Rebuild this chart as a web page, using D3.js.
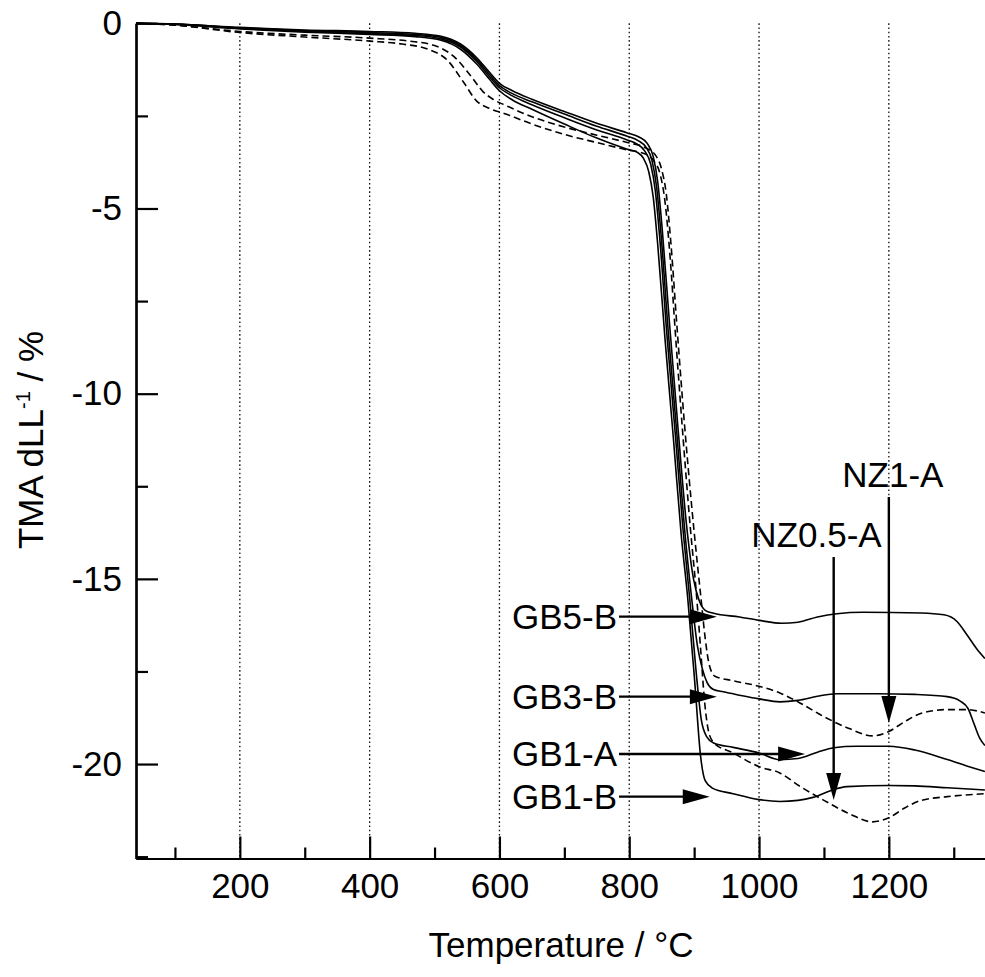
<!DOCTYPE html>
<html>
<head>
<meta charset="utf-8">
<script src="https://cdn.jsdelivr.net/npm/d3@7"></script>
<style>
  body{margin:0;background:#fff;}
  text{font-family:"Liberation Sans",Arial,Helvetica,sans-serif;fill:#000;}
</style>
</head>
<body>
<div id="chart"></div>
<script>
//data : [temperature, dL/L %]

var gb5B=[[40,0],[100,-0.02],[200,-0.11],[300,-0.18],[400,-0.22],[470,-0.27],[510,-0.35],[540,-0.56],[565,-0.93],[585,-1.33],[600,-1.62],[620,-1.82],[650,-2.05],[700,-2.38],[750,-2.7],[797,-2.96],[815,-3.07],[828,-3.25],[837,-3.6],[844,-4.3],[851,-5.6],[862,-8.1],[875,-10.9],[888,-13.5],[899,-15.0],[908,-15.6],[917,-15.85],[930,-15.93],[970,-16.03],[1000,-16.12],[1035,-16.2],[1060,-16.17],[1090,-16.03],[1120,-15.94],[1160,-15.9],[1250,-15.92],[1285,-15.97],[1305,-16.15],[1320,-16.5],[1335,-16.88],[1348,-17.15]];

var gb3B=[[40,0],[100,-0.02],[200,-0.12],[300,-0.2],[400,-0.25],[470,-0.3],[510,-0.38],[540,-0.6],[565,-0.98],[585,-1.39],[600,-1.68],[620,-1.9],[650,-2.12],[700,-2.45],[750,-2.78],[797,-3.05],[813,-3.16],[826,-3.35],[835,-3.7],[842,-4.4],[849,-5.7],[860,-8.3],[873,-11.0],[885,-13.6],[896,-15.5],[905,-16.8],[913,-17.45],[920,-17.8],[929,-17.98],[945,-18.05],[970,-18.14],[1000,-18.24],[1032,-18.32],[1060,-18.28],[1090,-18.17],[1120,-18.1],[1180,-18.1],[1240,-18.12],[1290,-18.18],[1310,-18.3],[1322,-18.5],[1332,-18.95],[1340,-19.3],[1348,-19.5]];

var gb1A=[[40,0],[100,-0.03],[200,-0.13],[300,-0.22],[400,-0.28],[470,-0.33],[510,-0.42],[540,-0.64],[565,-1.03],[585,-1.45],[600,-1.74],[620,-1.96],[650,-2.2],[700,-2.55],[750,-2.88],[797,-3.15],[812,-3.26],[824,-3.45],[833,-3.8],[840,-4.5],[847,-5.8],[858,-8.4],[871,-11.1],[883,-13.7],[893,-15.5],[903,-17.5],[911,-18.8],[919,-19.25],[930,-19.43],[960,-19.55],[1000,-19.7],[1032,-19.88],[1060,-19.85],[1090,-19.68],[1115,-19.56],[1150,-19.52],[1200,-19.52],[1240,-19.62],[1290,-19.88],[1320,-20.05],[1348,-20.2]];

var gb1B=[[40,0],[100,-0.03],[200,-0.15],[300,-0.24],[400,-0.3],[470,-0.36],[510,-0.46],[540,-0.7],[565,-1.1],[585,-1.52],[600,-1.82],[620,-2.07],[650,-2.32],[700,-2.72],[750,-3.1],[797,-3.4],[812,-3.48],[822,-3.65],[830,-4.0],[837,-4.7],[844,-6.0],[855,-8.5],[868,-11.2],[880,-13.8],[890,-15.5],[901,-17.8],[910,-19.8],[917,-20.45],[928,-20.65],[960,-20.8],[1000,-20.96],[1032,-21.01],[1060,-20.98],[1083,-20.9],[1110,-20.72],[1135,-20.61],[1200,-20.58],[1240,-20.59],[1290,-20.64],[1348,-20.7]];

var nz1A=[[40,0],[100,-0.05],[200,-0.22],[300,-0.32],[400,-0.4],[460,-0.48],[500,-0.6],[530,-0.9],[555,-1.4],[575,-1.85],[590,-2.05],[610,-2.22],[650,-2.52],[700,-2.8],[750,-3.02],[797,-3.22],[825,-3.36],[840,-3.55],[850,-3.95],[857,-4.6],[864,-5.9],[874,-8.3],[885,-10.8],[896,-13.0],[905,-14.6],[911,-15.6],[917,-16.6],[923,-17.3],[932,-17.63],[960,-17.75],[1000,-17.9],[1032,-18.08],[1063,-18.35],[1100,-18.72],[1140,-19.05],[1175,-19.24],[1200,-19.12],[1225,-18.85],[1250,-18.63],[1290,-18.53],[1320,-18.53],[1348,-18.62]];

var nz05A=[[40,0],[100,-0.05],[200,-0.25],[300,-0.37],[400,-0.48],[450,-0.56],[490,-0.7],[520,-1.0],[545,-1.6],[565,-2.1],[585,-2.3],[610,-2.45],[650,-2.72],[700,-3.0],[750,-3.22],[797,-3.42],[825,-3.53],[838,-3.72],[848,-4.1],[855,-4.8],[862,-6.1],[872,-8.6],[883,-11.2],[894,-13.6],[903,-15.3],[910,-16.9],[916,-18.3],[922,-19.1],[930,-19.42],[960,-19.7],[1000,-20.07],[1032,-20.24],[1063,-20.6],[1100,-20.98],[1140,-21.35],[1175,-21.56],[1200,-21.45],[1225,-21.18],[1250,-20.98],[1290,-20.88],[1348,-20.8]];

var series=[
  {name:"GB5-B",values:gb5B,dash:null},
  {name:"GB3-B",values:gb3B,dash:null},
  {name:"GB1-A",values:gb1A,dash:null},
  {name:"GB1-B",values:gb1B,dash:null},
  {name:"NZ1-A",values:nz1A,dash:"7,4"},
  {name:"NZ0.5-A",values:nz05A,dash:"7,4"}
];

var xMajor=[200,400,600,800,1000,1200];
var xMinor=[100,300,500,700,900,1100,1300];
var yMajor=[0,-5,-10,-15,-20];
var yMinor=[-2.5,-7.5,-12.5,-17.5,-22.5];

//labels with horizontal arrows: [name, level, arrow tip temperature]
var sideLabels=[["GB5-B",-16.02,935],["GB3-B",-18.18,935],["GB1-A",-19.73,1071],["GB1-B",-20.88,924]];
//labels with vertical arrows: [name, temperature, label level, arrow tip level]
var topLabels=[["NZ0.5-A",1115,-14.14,-20.97],["NZ1-A",1200,-12.52,-18.89]];

//setup svg
var width=985, height=977;
var svg=d3.select("#chart").append("svg")
          .attr("width",width)
          .attr("height",height)
          .style("display","block");

var x=d3.scaleLinear().domain([40,1350]).range([136,986.2]);
var y=d3.scaleLinear().domain([0,-22.55]).range([23.3,858.5]);
var bottom=y(-22.55);
var fmt=function(d){return String(d)};

//dotted grid
svg.append("g").selectAll("line")
   .data(xMajor)
   .enter()
   .append("line")
   .attr("x1",function(d){return x(d)})
   .attr("x2",function(d){return x(d)})
   .attr("y1",y(0))
   .attr("y2",bottom)
   .style("stroke","#111")
   .style("stroke-width",1.3)
   .style("stroke-dasharray","1.6,2.6");

//axes
var fontSize=35;
svg.append("g")
   .attr("transform","translate(0,"+bottom+")")
   .call(d3.axisBottom(x).tickValues(xMajor).tickSizeInner(-22).tickSizeOuter(0).tickPadding(15).tickFormat(fmt));
svg.append("g")
   .attr("transform","translate(0,"+bottom+")")
   .call(d3.axisBottom(x).tickValues(xMinor).tickSizeInner(-11).tickSizeOuter(0).tickFormat(""));
svg.append("g")
   .attr("transform","translate("+x(40)+",0)")
   .call(d3.axisLeft(y).tickValues(yMajor).tickSizeInner(-22).tickSizeOuter(0).tickPadding(14).tickFormat(fmt));
svg.append("g")
   .attr("transform","translate("+x(40)+",0)")
   .call(d3.axisLeft(y).tickValues(yMinor).tickSizeInner(-12).tickSizeOuter(0).tickFormat(""));

svg.selectAll(".domain").style("stroke","#000").style("stroke-width",2.2);
svg.selectAll(".tick line").style("stroke","#000").style("stroke-width",2.2);
svg.selectAll(".tick text")
   .style("font-size",fontSize+"px")
   .style("font-family","'Liberation Sans',Arial,Helvetica,sans-serif")
   .attr("fill","#000");

//curves
svg.append("clipPath").attr("id","plotclip")
   .append("rect").attr("x",x(40)).attr("y",0).attr("width",width).attr("height",bottom);

var line=d3.line()
   .x(function(d){return x(d[0])})
   .y(function(d){return y(d[1])})
   .curve(d3.curveMonotoneX);

svg.append("g").attr("clip-path","url(#plotclip)")
   .selectAll("path")
   .data(series)
   .enter()
   .append("path")
   .attr("d",function(d){return line(d.values)})
   .style("fill","none")
   .style("stroke","#000")
   .style("stroke-width",1.6)
   .style("stroke-dasharray",function(d){return d.dash});

//annotations
var ann=svg.append("g");
var headLen=27, headHalf=7.5;

sideLabels.forEach(function(l){
    var yy=y(l[1]);
    var start=617;
    var tip=x(l[2]);
    ann.append("text")
       .attr("x",start)
       .attr("y",yy+12)
       .attr("text-anchor","end")
       .style("font-size",fontSize+"px")
       .text(l[0]);
    ann.append("line")
       .attr("x1",start+2).attr("x2",tip-headLen+2)
       .attr("y1",yy).attr("y2",yy)
       .style("stroke","#000").style("stroke-width",2.4);
    ann.append("path")
       .attr("d","M"+tip+","+yy+"L"+(tip-headLen)+","+(yy-headHalf)+"L"+(tip-headLen)+","+(yy+headHalf)+"Z")
       .style("fill","#000");
});

topLabels.forEach(function(l){
    var xx=x(l[1]);
    var ty=y(l[2]);
    var tip=y(l[3]);
    ann.append("text")
       .attr("x",l[0]=="NZ1-A"?xx+4:xx+48)
       .attr("y",ty)
       .attr("text-anchor",l[0]=="NZ1-A"?"middle":"end")
       .style("font-size",fontSize+"px")
       .text(l[0]);
    ann.append("line")
       .attr("x1",xx).attr("x2",xx)
       .attr("y1",ty+10).attr("y2",tip-headLen+2)
       .style("stroke","#000").style("stroke-width",2.4);
    ann.append("path")
       .attr("d","M"+xx+","+tip+"L"+(xx-headHalf)+","+(tip-headLen)+"L"+(xx+headHalf)+","+(tip-headLen)+"Z")
       .style("fill","#000");
});

//axis titles
svg.append("text")
   .attr("x",561)
   .attr("y",957)
   .attr("text-anchor","middle")
   .style("font-size",fontSize+"px")
   .text("Temperature / °C");

var yTitle=svg.append("text")
   .attr("transform","translate(43,440) rotate(-90)")
   .attr("text-anchor","middle")
   .style("font-size",fontSize+"px");
yTitle.append("tspan").text("TMA dLL");
yTitle.append("tspan").attr("dy",-13).style("font-size","20px").text("-1");
yTitle.append("tspan").attr("dy",13).text(" / %");
</script>
</body>
</html>
